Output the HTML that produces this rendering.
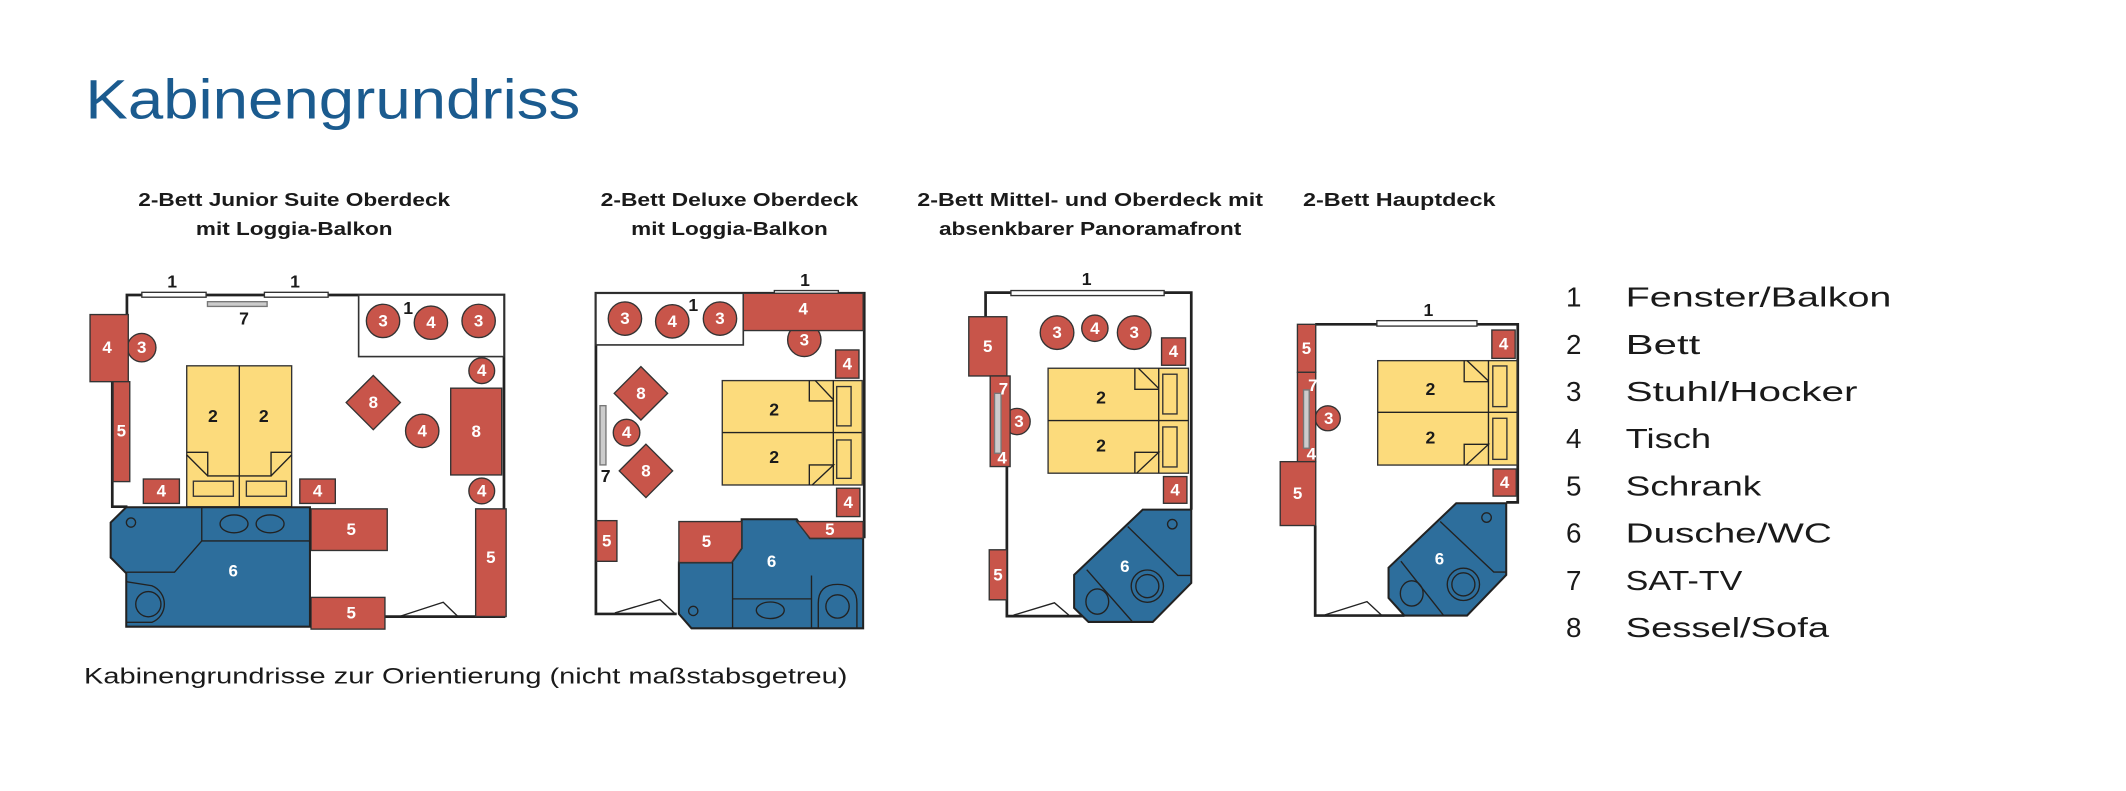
<!DOCTYPE html>
<html><head><meta charset="utf-8"><style>
html,body{margin:0;padding:0;background:#fff;}
svg{display:block;}
.t{font-family:"Liberation Sans",sans-serif;}
.lb{font-family:"Liberation Sans",sans-serif;font-weight:bold;font-size:12.5px;fill:#fff;text-anchor:middle;dominant-baseline:central;}
.bk{font-family:"Liberation Sans",sans-serif;font-weight:bold;font-size:13px;fill:#1a1a1a;text-anchor:middle;dominant-baseline:central;}
.r{fill:#c8554a;stroke:#333;stroke-width:1;}
.y{fill:#fcdb7c;stroke:#333;stroke-width:1;}
.b{fill:#2d6e9c;stroke:#222;stroke-width:1.5;}
.ln{fill:none;stroke:#222;stroke-width:1;}
.w{fill:none;stroke:#222;stroke-width:2;}
.win{fill:#fff;stroke:#333;stroke-width:1;}
.tv{fill:#ccc;stroke:#777;stroke-width:1;}
.h{font-family:"Liberation Sans",sans-serif;font-weight:bold;font-size:13.6px;fill:#1a1a1a;text-anchor:middle;}
.lg{font-family:"Liberation Sans",sans-serif;font-size:20.5px;fill:#1a1a1a;}
</style></head><body>
<svg width="2126" height="791" viewBox="0 0 1568 583.4" xmlns="http://www.w3.org/2000/svg">
<rect x="0" y="0" width="1568" height="583.4" fill="#fff"/>
<text class="t" x="63" y="87.3" font-size="41" fill="#1b5b8f" textLength="365" lengthAdjust="spacingAndGlyphs">Kabinengrundriss</text>

<!-- headings -->
<text class="h" x="217" y="152" textLength="230" lengthAdjust="spacingAndGlyphs">2-Bett Junior Suite Oberdeck</text>
<text class="h" x="217" y="173.4" textLength="145" lengthAdjust="spacingAndGlyphs">mit Loggia-Balkon</text>
<text class="h" x="538" y="152" textLength="190" lengthAdjust="spacingAndGlyphs">2-Bett Deluxe Oberdeck</text>
<text class="h" x="538" y="173.4" textLength="145" lengthAdjust="spacingAndGlyphs">mit Loggia-Balkon</text>
<text class="h" x="804" y="152" textLength="255" lengthAdjust="spacingAndGlyphs">2-Bett Mittel- und Oberdeck mit</text>
<text class="h" x="804" y="173.4" textLength="223" lengthAdjust="spacingAndGlyphs">absenkbarer Panoramafront</text>
<text class="h" x="1032" y="152" textLength="142" lengthAdjust="spacingAndGlyphs">2-Bett Hauptdeck</text>

<!-- ROOM 1 -->
<path class="w" d="M93.6,232 L93.6,217.6 L371.7,217.6 L371.7,454.8 L284,454.8"/>
<path class="w" d="M82.8,281.5 L82.8,373.7 L94,373.7"/>
<rect class="win" x="104.6" y="215.6" width="47.4" height="3.6"/>
<rect class="win" x="195" y="215.6" width="47" height="3.6"/>
<rect class="tv" x="153" y="222.5" width="44" height="3.5"/>
<text class="bk" x="127" y="207.5" font-weight="normal">1</text>
<text class="bk" x="217.6" y="207.5" font-weight="normal">1</text>
<text class="bk" x="180" y="235">7</text>
<rect fill="#fff" stroke="#333" stroke-width="1.2" x="264.5" y="217.6" width="107.2" height="45.4"/>
<circle class="r" cx="282.5" cy="236.7" r="12.3"/><text class="lb" x="282.5" y="236.7">3</text>
<circle class="r" cx="317.8" cy="238" r="12.3"/><text class="lb" x="317.8" y="238">4</text>
<circle class="r" cx="353" cy="236.7" r="12.3"/><text class="lb" x="353" y="236.7">3</text>
<text class="bk" x="301" y="227" font-weight="normal">1</text>
<circle class="r" cx="104.5" cy="256.4" r="10.5"/><text class="lb" x="104.5" y="256.4">3</text>
<rect class="r" x="66.4" y="232" width="28.2" height="49.5"/><text class="lb" x="79" y="256.4">4</text>
<rect class="r" x="83.4" y="281.5" width="12.3" height="73.7"/><text class="lb" x="89.5" y="318">5</text>
<rect class="y" x="137.7" y="269.8" width="77.4" height="104"/>
<path class="ln" d="M176.5,269.8 L176.5,373.8"/>
<path class="ln" d="M137.7,333.6 L153.2,333.6 L153.2,351 L199.9,351 L199.9,333.6 L215.1,333.6 M137.7,335.5 L153.2,351 M215.1,335.5 L199.9,351"/>
<rect class="y" x="142.6" y="354.9" width="29.5" height="11.1"/>
<rect class="y" x="181.7" y="354.9" width="29.5" height="11.1"/>
<text class="bk" x="157" y="307">2</text><text class="bk" x="194.5" y="307">2</text>
<rect class="r" x="105.7" y="353.3" width="26.6" height="18"/><text class="lb" x="119" y="362.3">4</text>
<rect class="r" x="221.1" y="353.3" width="26.2" height="18"/><text class="lb" x="234.2" y="362.3">4</text>
<polygon class="r" points="275.3,276.9 295.3,296.9 275.3,316.9 255.3,296.9"/><text class="lb" x="275.3" y="296.9">8</text>
<circle class="r" cx="311.4" cy="317.8" r="12.3"/><text class="lb" x="311.4" y="317.8">4</text>
<circle class="r" cx="355.3" cy="273.4" r="9.5"/><text class="lb" x="355.3" y="273.4">4</text>
<rect class="r" x="332.4" y="286.3" width="37.6" height="64"/><text class="lb" x="351.2" y="318.3">8</text>
<circle class="r" cx="355.3" cy="362.1" r="9.5"/><text class="lb" x="355.3" y="362.1">4</text>
<rect class="r" x="350.8" y="375.3" width="22.5" height="79.4"/><text class="lb" x="362" y="411">5</text>
<rect class="r" x="229.4" y="375.3" width="56.2" height="30.7"/><text class="lb" x="259" y="390.6">5</text>
<rect class="r" x="229.4" y="440.6" width="54.5" height="23.4"/><text class="lb" x="259" y="452.3">5</text>
<polygon class="b" points="93.1,374.1 228.6,374.1 228.6,462.2 93.1,462.2 93.1,422.8 81.6,411.2 81.6,385.4"/>
<path class="ln" d="M148.8,374.1 L148.8,399 L228.6,399 M148.8,399 L128.7,422 L93.1,422"/>
<ellipse class="ln" cx="172.6" cy="386.4" rx="10.3" ry="6.6"/>
<ellipse class="ln" cx="199.2" cy="386.4" rx="10.3" ry="6.6"/>
<circle class="ln" cx="96.6" cy="385.4" r="3.4"/>
<path class="ln" d="M93.1,429 L112,432 A14.5 14.5 0 0 1 112,459 L93.1,459"/>
<circle class="ln" cx="109.4" cy="445.6" r="9.3"/>
<text class="lb" x="172" y="421">6</text>
<path class="ln" d="M293.7,455 L326.9,444.2 L338,455"/>

<!-- ROOM 2 -->
<path class="w" d="M499.1,452.8 L439.5,452.8 L439.5,216.3 L637.4,216.3 L637.4,397"/>
<rect class="win" x="571.1" y="214.3" width="47.2" height="3.7"/>
<text class="bk" x="593.7" y="206.5" font-weight="normal">1</text>
<rect fill="#fff" stroke="#333" stroke-width="1.2" x="439.5" y="216.3" width="108.7" height="38.1"/>
<circle class="r" cx="460.9" cy="235" r="12.3"/><text class="lb" x="460.9" y="235">3</text>
<circle class="r" cx="495.8" cy="237" r="12.3"/><text class="lb" x="495.8" y="237">4</text>
<circle class="r" cx="531" cy="235" r="12.3"/><text class="lb" x="531" y="235">3</text>
<text class="bk" x="511.3" y="225" font-weight="normal">1</text>
<circle class="r" cx="593.2" cy="250.7" r="12.3"/><text class="lb" x="593.2" y="250.7">3</text>
<rect class="r" x="548.2" y="216.3" width="88.4" height="27.5"/><text class="lb" x="592.4" y="228">4</text>
<rect class="r" x="616.3" y="258.1" width="17.2" height="20.8"/><text class="lb" x="624.9" y="268.5">4</text>
<rect class="r" x="617" y="360.1" width="17.2" height="20.9"/><text class="lb" x="625.6" y="370.5">4</text>
<rect class="y" x="532.7" y="280.7" width="103.2" height="77"/>
<path class="ln" d="M532.7,319 L635.9,319 M614.6,280.7 L614.6,357.7"/>
<path class="ln" d="M596.9,280.7 L596.9,295.7 L614.8,295.7 M601.3,280.7 L614.8,295 M596.9,357.7 L596.9,342.9 L614.8,342.9 L599,357.7"/>
<rect class="y" x="617.1" y="285.1" width="10.6" height="29"/>
<rect class="y" x="617.1" y="324.5" width="10.6" height="28.3"/>
<text class="bk" x="571" y="302">2</text><text class="bk" x="571" y="337">2</text>
<polygon class="r" points="472.7,270.4 492.4,290.1 472.7,309.8 453,290.1"/><text class="lb" x="472.7" y="290.1">8</text>
<polygon class="r" points="476.4,327.6 496.1,347.3 476.4,367 456.7,347.3"/><text class="lb" x="476.4" y="347.3">8</text>
<circle class="r" cx="462.1" cy="319.1" r="9.8"/><text class="lb" x="462.1" y="319.1">4</text>
<rect class="tv" x="442.5" y="299.2" width="4.4" height="43.7"/>
<text class="bk" x="446.7" y="351">7</text>
<rect class="r" x="440" y="384" width="15" height="30"/><text class="lb" x="447.5" y="399">5</text>
<polygon class="b" points="500.7,414.9 539.6,414.9 547,404.4 547,383 587.6,383 597.4,397 636.6,397 636.6,463.4 510,463.4 500.7,452.8"/>
<polygon class="r" points="500.7,384.7 547,384.7 547,404.4 539.6,414.9 500.7,414.9"/><text class="lb" x="521" y="399.5">5</text>
<polygon class="r" points="587.6,384.7 636.6,384.7 636.6,397 597.4,397"/><text class="lb" x="612" y="390.5">5</text>
<path class="ln" d="M540.3,414.9 L540.3,463.4 M540.3,441.7 L598.5,441.7 M598.5,424.5 L598.5,463.4"/>
<ellipse class="ln" cx="568.1" cy="450.1" rx="10.3" ry="6.1"/>
<circle class="ln" cx="511.3" cy="450.6" r="3.4"/>
<path class="ln" d="M603.5,463 L603.5,445 Q603.5,431 617.7,431 Q632,431 632,445 L632,463"/>
<circle class="ln" cx="617.7" cy="447.3" r="8.6"/>
<text class="lb" x="569.1" y="414">6</text>
<path class="ln" d="M453.5,452 L486.7,442.2 L497.7,452.5"/>

<!-- ROOM 3 -->
<path class="w" d="M726.9,236.3 L726.9,215.8 L878.6,215.8 L878.6,376"/>
<path class="w" d="M742.6,277.3 L742.6,454.4 L798.8,454.4"/>
<rect class="win" x="745.6" y="214.3" width="113" height="3.7"/>
<text class="bk" x="801.4" y="205.7" font-weight="normal">1</text>
<rect class="r" x="714.5" y="233.6" width="28.1" height="43.7"/><text class="lb" x="728.5" y="255.5">5</text>
<circle class="r" cx="750.1" cy="310.9" r="9.7"/><text class="lb" x="751.5" y="310.9">3</text>
<rect class="r" x="730.3" y="277.3" width="14.7" height="66.8"/>
<rect class="tv" x="733.5" y="290.1" width="4.8" height="44.2"/>
<text class="lb" x="740.1" y="286.9">7</text><text class="lb" x="739.1" y="337.9">4</text>
<circle class="r" cx="779.6" cy="245.3" r="12.4"/><text class="lb" x="779.6" y="245.3">3</text>
<circle class="r" cx="807.5" cy="242.1" r="9.7"/><text class="lb" x="807.5" y="242.1">4</text>
<circle class="r" cx="836.5" cy="245.3" r="12.4"/><text class="lb" x="836.5" y="245.3">3</text>
<rect class="r" x="856.7" y="249.2" width="17.7" height="20.2"/><text class="lb" x="865.5" y="259.3">4</text>
<rect class="r" x="858.1" y="351.5" width="17.3" height="19.7"/><text class="lb" x="866.7" y="361.3">4</text>
<rect class="y" x="773" y="271.6" width="103.5" height="77.4"/>
<path class="ln" d="M773,310.2 L876.5,310.2 M854.6,271.6 L854.6,349"/>
<path class="ln" d="M837,271.6 L837,287.1 L854.6,287.1 M839.6,271.6 L854.6,286.5 M837,349 L837,333.6 L854.6,333.6 L838.3,349"/>
<rect class="y" x="857.6" y="276" width="10.5" height="29.3"/>
<rect class="y" x="857.6" y="314.9" width="10.5" height="29.5"/>
<text class="bk" x="812" y="293">2</text><text class="bk" x="812" y="328.5">2</text>
<rect class="r" x="729.6" y="405.5" width="13" height="36.9"/><text class="lb" x="736" y="424">5</text>
<polygon class="b" points="792.2,424 842.8,375.9 878.6,375.9 878.6,430 850.2,458.7 802.8,458.7 792.2,448.4"/>
<path class="ln" d="M831.7,388.3 L868.7,424.4 L878.6,424.4 M801.5,420.2 L834.9,458.2"/>
<circle class="ln" cx="846.2" cy="432.3" r="11.9"/><circle class="ln" cx="846.2" cy="432.3" r="8.5"/>
<ellipse class="ln" cx="809.3" cy="443.7" rx="8.4" ry="9.3"/>
<circle class="ln" cx="864.6" cy="386.6" r="3.5"/>
<text class="lb" x="829.6" y="417.9">6</text>
<path class="ln" d="M747.5,453.7 L777.7,444.6 L788.3,453.7"/>

<!-- ROOM 4 -->
<path class="w" d="M970,239.2 L1119.4,239.2 L1119.4,370.5 L1110.9,370.5"/>
<path class="w" d="M970,387.6 L970,454 L1035.8,454"/>
<rect class="win" x="1015.5" y="236.5" width="73.8" height="4"/>
<text class="bk" x="1053.5" y="228.6" font-weight="normal">1</text>
<rect class="r" x="956.9" y="239.2" width="13.5" height="35.4"/><text class="lb" x="963.6" y="256.9">5</text>
<circle class="r" cx="979.3" cy="308.5" r="9.2"/><text class="lb" x="980" y="308.5">3</text>
<rect class="r" x="956.9" y="274.6" width="13.5" height="65.9"/>
<rect class="tv" x="961.4" y="287.6" width="4.2" height="43"/>
<text class="lb" x="968.3" y="284.4">7</text><text class="lb" x="967.2" y="335">4</text>
<rect class="r" x="944.2" y="340.5" width="26.2" height="47.1"/><text class="lb" x="957" y="364">5</text>
<rect class="r" x="1100.3" y="243.4" width="17.2" height="20.9"/><text class="lb" x="1109" y="253.8">4</text>
<rect class="r" x="1101.2" y="345.9" width="17.1" height="20"/><text class="lb" x="1109.7" y="356">4</text>
<rect class="y" x="1016.1" y="266" width="102.8" height="77"/>
<path class="ln" d="M1016.1,304.1 L1118.9,304.1 M1097.8,266 L1097.8,343"/>
<path class="ln" d="M1079.9,266 L1079.9,281.5 L1097.8,281.5 M1082,266 L1097.8,281 M1079.9,343 L1079.9,327.7 L1097.8,327.7 L1081.4,343"/>
<rect class="y" x="1101" y="269.9" width="10.4" height="30"/>
<rect class="y" x="1101" y="308.5" width="10.4" height="30.3"/>
<text class="bk" x="1055" y="287">2</text><text class="bk" x="1055" y="322.5">2</text>
<polygon class="b" points="1024.1,418.7 1074,371.2 1110.9,371.2 1110.9,424.1 1082,454 1035.8,454 1024.1,441"/>
<path class="ln" d="M1062.2,384.6 L1101.7,421.9 L1110.9,421.9 M1033.2,413.9 L1064.8,454"/>
<circle class="ln" cx="1079.3" cy="431" r="11.9"/><circle class="ln" cx="1079.3" cy="431" r="8.5"/>
<ellipse class="ln" cx="1041.2" cy="437.7" rx="8.4" ry="9.3"/>
<circle class="ln" cx="1096.4" cy="381.7" r="3.5"/>
<text class="lb" x="1061.7" y="412.3">6</text>
<path class="ln" d="M977.2,453.5 L1008.2,443.7 L1018.7,453.5"/>

<!-- legend -->
<g class="lg">
<text x="1155" y="226.2">1</text><text x="1199" y="226.2" textLength="196" lengthAdjust="spacingAndGlyphs">Fenster/Balkon</text>
<text x="1155" y="261">2</text><text x="1199" y="261" textLength="55" lengthAdjust="spacingAndGlyphs">Bett</text>
<text x="1155" y="295.8">3</text><text x="1199" y="295.8" textLength="171" lengthAdjust="spacingAndGlyphs">Stuhl/Hocker</text>
<text x="1155" y="330.6">4</text><text x="1199" y="330.6" textLength="63" lengthAdjust="spacingAndGlyphs">Tisch</text>
<text x="1155" y="365.4">5</text><text x="1199" y="365.4" textLength="100" lengthAdjust="spacingAndGlyphs">Schrank</text>
<text x="1155" y="400.2">6</text><text x="1199" y="400.2" textLength="152" lengthAdjust="spacingAndGlyphs">Dusche/WC</text>
<text x="1155" y="435">7</text><text x="1199" y="435" textLength="86" lengthAdjust="spacingAndGlyphs">SAT-TV</text>
<text x="1155" y="469.8">8</text><text x="1199" y="469.8" textLength="150" lengthAdjust="spacingAndGlyphs">Sessel/Sofa</text>
</g>
<text class="t" x="62" y="504" font-size="16.5" fill="#1a1a1a" textLength="563" lengthAdjust="spacingAndGlyphs">Kabinengrundrisse zur Orientierung (nicht maßstabsgetreu)</text>
</svg>
</body></html>
